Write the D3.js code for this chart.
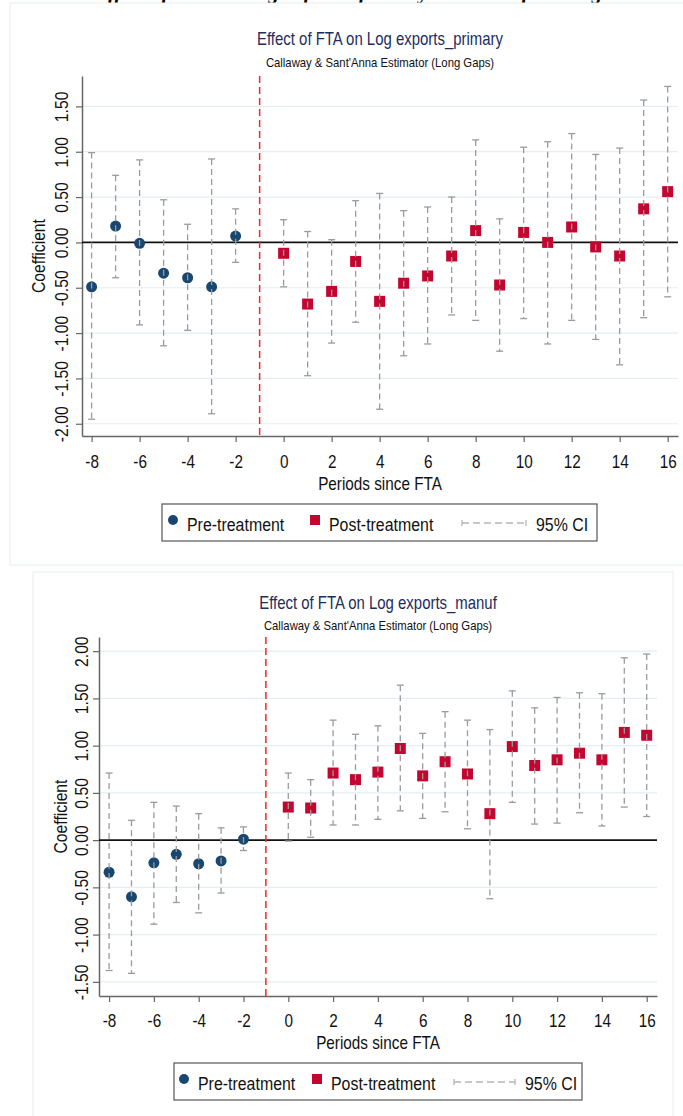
<!DOCTYPE html>
<html>
<head>
<meta charset="utf-8">
<script src="https://cdnjs.cloudflare.com/ajax/libs/d3/7.8.5/d3.min.js"></script>
<style>
  body { margin: 0; background: #fff; }
  svg { display: block; font-family: "Liberation Sans", Arial, sans-serif; }
</style>
</head>
<body>
<svg id="chart" width="683" height="1116"></svg>
<script>
// event time (periods since FTA)
var periods = [-8, -7, -6, -5, -4, -3, -2, 0, 1, 2, 3, 4, 5, 6, 7, 8, 9, 10, 11, 12, 13, 14, 15, 16];
var xTicks = [-8, -6, -4, -2, 0, 2, 4, 6, 8, 10, 12, 14, 16];

// primary exports
var primaryCoef = [-0.49, 0.18, -0.01, -0.34, -0.39, -0.49, 0.07,
  -0.12, -0.68, -0.54, -0.21, -0.65, -0.45, -0.37, -0.15, 0.13, -0.47, 0.11, 0.00, 0.17, -0.05, -0.15, 0.37, 0.56];
var primaryLo = [-1.95, -0.39, -0.91, -1.14, -0.97, -1.89, -0.22,
  -0.49, -1.47, -1.11, -0.88, -1.84, -1.25, -1.12, -0.80, -0.86, -1.20, -0.84, -1.12, -0.86, -1.07, -1.35, -0.83, -0.60];
var primaryHi = [0.99, 0.74, 0.91, 0.47, 0.20, 0.92, 0.37,
  0.25, 0.12, 0.03, 0.46, 0.54, 0.35, 0.39, 0.50, 1.13, 0.26, 1.05, 1.11, 1.20, 0.97, 1.04, 1.57, 1.72];
var yTicksPrimary = [-2, -1.5, -1, -0.5, 0, 0.5, 1, 1.5];

// manufacturing exports
var manufCoef = [-0.34, -0.60, -0.24, -0.15, -0.25, -0.22, 0.01,
  0.35, 0.34, 0.71, 0.64, 0.72, 0.97, 0.68, 0.83, 0.70, 0.28, 0.99, 0.79, 0.85, 0.92, 0.85, 1.14, 1.11];
var manufLo = [-1.38, -1.41, -0.89, -0.66, -0.77, -0.56, -0.11,
  -0.01, 0.03, 0.16, 0.16, 0.22, 0.31, 0.23, 0.30, 0.12, -0.62, 0.40, 0.17, 0.18, 0.29, 0.15, 0.35, 0.25];
var manufHi = [0.71, 0.21, 0.40, 0.36, 0.28, 0.13, 0.14,
  0.71, 0.64, 1.27, 1.12, 1.21, 1.64, 1.13, 1.36, 1.27, 1.17, 1.58, 1.40, 1.51, 1.56, 1.55, 1.93, 1.97];
var yTicksManuf = [-1.5, -1, -0.5, 0, 0.5, 1, 1.5, 2];

var preColor = "#1a476f";
var postColor = "#c2062f";
var ciColor = "#9b9b9b";
var squeeze = 0.85; // the exported graphs look horizontally condensed

var svg = d3.select("#chart");

// text helper: condensed glyphs, positioned by transform
function addText(parent, x, y, str, size, anchor, rot, sx) {
  return parent.append("text")
    .attr("transform", `translate(${x},${y})` + (rot ? ` rotate(${rot})` : "") + ` scale(${sx || squeeze},1)`)
    .attr("text-anchor", anchor || "start")
    .attr("font-size", size)
    .attr("fill", "#111")
    .text(str);
}

// page heading above the first figure, cut by the page edge
svg.append("text")
  .attr("x", 94)
  .attr("y", -1)
  .attr("font-family", "Liberation Serif, serif")
  .attr("font-style", "italic")
  .attr("font-weight", "bold")
  .attr("font-size", 21)
  .attr("fill", "#000")
  .text("Effect of FTA on Log exports: primary and manufacturing");

function drawPanel(cfg) {
  var g = svg.append("g");

  // light frame of the exported graph
  g.append("rect")
    .attr("x", cfg.frame[0]).attr("y", cfg.frame[1])
    .attr("width", cfg.frame[2]).attr("height", cfg.frame[3])
    .attr("fill", "#fff")
    .attr("stroke", "#e6eef0")
    .attr("stroke-width", 1);

  var x = d3.scaleLinear().domain(cfg.xDomain).range([cfg.left, cfg.right]);
  var y = d3.scaleLinear().domain(cfg.yDomain).range([cfg.bottom, cfg.top]);

  // grid
  g.append("g").selectAll("line")
    .data(cfg.yTicks.filter(d => d !== 0))
    .enter().append("line")
    .attr("x1", cfg.left).attr("x2", cfg.right)
    .attr("y1", d => y(d)).attr("y2", d => y(d))
    .attr("stroke", "#e3eff1")
    .attr("stroke-width", 1.2);

  // y axis
  var yAxis = g.append("g")
    .attr("transform", `translate(${cfg.left},0)`)
    .call(d3.axisLeft(y).tickValues(cfg.yTicks).tickSize(6).tickSizeOuter(0).tickFormat(d3.format(".2f")));
  yAxis.select(".domain").attr("stroke", "#666").attr("stroke-width", 1.5);
  yAxis.selectAll(".tick line").attr("stroke", "#666").attr("stroke-width", 1.2);
  yAxis.selectAll(".tick text")
    .attr("x", 0).attr("y", 0).attr("dy", null)
    .attr("transform", `translate(${-cfg.yLabelGap},0) rotate(-90) scale(${squeeze},1)`)
    .attr("text-anchor", "middle")
    .attr("font-size", 18.5)
    .attr("fill", "#111")
    .text(d => d3.format(".2f")(d).replace("−", "-"));

  // x axis
  var xAxis = g.append("g")
    .attr("transform", `translate(0,${cfg.bottom})`)
    .call(d3.axisBottom(x).tickValues(xTicks).tickSize(6).tickSizeOuter(0).tickFormat(d => String(d)));
  xAxis.select(".domain").attr("stroke", "#666").attr("stroke-width", 1.5);
  xAxis.selectAll(".tick line").attr("stroke", "#666").attr("stroke-width", 1.2);
  xAxis.selectAll(".tick text")
    .attr("y", 0).attr("dy", null)
    .attr("transform", `translate(0,${cfg.xLabelY - cfg.bottom}) scale(${squeeze},1)`)
    .attr("font-size", 18)
    .attr("fill", "#111");

  // zero line
  g.append("line")
    .attr("x1", cfg.left).attr("x2", cfg.right)
    .attr("y1", y(0)).attr("y2", y(0))
    .attr("stroke", "#111")
    .attr("stroke-width", 1.6);

  // treatment reference line
  g.append("line")
    .attr("x1", x(-1)).attr("x2", x(-1))
    .attr("y1", cfg.top).attr("y2", cfg.bottom)
    .attr("stroke", "#ee2a2a")
    .attr("stroke-width", 1.5)
    .attr("stroke-dasharray", "7,4");

  var rows = periods.map((p, i) => ({p: p, b: cfg.coef[i], lo: cfg.lo[i], hi: cfg.hi[i]}));

  // markers
  g.append("g").selectAll("circle")
    .data(rows.filter(d => d.p < 0))
    .enter().append("circle")
    .attr("cx", d => x(d.p)).attr("cy", d => y(d.b))
    .attr("r", 5.5)
    .attr("fill", preColor);

  g.append("g").selectAll("rect")
    .data(rows.filter(d => d.p >= 0))
    .enter().append("rect")
    .attr("x", d => x(d.p) - 5.5).attr("y", d => y(d.b) - 5.5)
    .attr("width", 11).attr("height", 11)
    .attr("fill", postColor);

  // confidence intervals (drawn over the markers)
  var ci = g.append("g").selectAll("g")
    .data(rows).enter().append("g")
    .attr("stroke", ciColor)
    .attr("stroke-width", 1.3);
  ci.append("line")
    .attr("x1", d => x(d.p)).attr("x2", d => x(d.p))
    .attr("y1", d => y(d.hi)).attr("y2", d => y(d.lo))
    .attr("stroke-dasharray", "6,4");
  ci.append("line")
    .attr("x1", d => x(d.p) - 3.5).attr("x2", d => x(d.p) + 3.5)
    .attr("y1", d => y(d.hi)).attr("y2", d => y(d.hi));
  ci.append("line")
    .attr("x1", d => x(d.p) - 3.5).attr("x2", d => x(d.p) + 3.5)
    .attr("y1", d => y(d.lo)).attr("y2", d => y(d.lo));

  // titles
  var cx = (cfg.left + cfg.right) / 2;
  addText(g, cx, cfg.titleY, cfg.title, 18, "middle", 0, 0.83).attr("fill", "#1c2d5e");
  addText(g, cx, cfg.titleY + cfg.subGap, "Callaway & Sant'Anna Estimator (Long Gaps)", 13, "middle", 0, 0.87);

  // axis titles
  addText(g, cfg.yTitleX, (cfg.top + cfg.bottom) / 2, "Coefficient", 18.5, "middle", -90);
  addText(g, cx, cfg.xTitleY, "Periods since FTA", 18, "middle");

  // legend
  var L = cfg.legend;
  var lg = g.append("g").attr("transform", `translate(${L.x},${L.y})`);
  lg.append("rect")
    .attr("width", L.w).attr("height", 37)
    .attr("fill", "#fff")
    .attr("stroke", "#555")
    .attr("stroke-width", 1.2);
  lg.append("circle").attr("cx", L.items[0]).attr("cy", 16).attr("r", 5).attr("fill", preColor);
  addText(lg, L.items[0] + 14, 27, "Pre-treatment", 18.5, "start", 0, 0.86);
  lg.append("rect").attr("x", L.items[1] - 5).attr("y", 11).attr("width", 10).attr("height", 10).attr("fill", postColor);
  addText(lg, L.items[1] + 14, 27, "Post-treatment", 18.5, "start", 0, 0.86);
  var c0 = L.items[2], c1 = L.items[2] + L.ciLen;
  var lci = lg.append("g").attr("stroke", "#b5b5b5").attr("stroke-width", 1.3);
  lci.append("line").attr("x1", c0).attr("x2", c1).attr("y1", 19).attr("y2", 19).attr("stroke-dasharray", "7,4");
  lci.append("line").attr("x1", c0).attr("x2", c0).attr("y1", 16).attr("y2", 22);
  lci.append("line").attr("x1", c1).attr("x2", c1).attr("y1", 16).attr("y2", 22);
  addText(lg, c1 + 10, 27, "95% CI", 18.5, "start", 0, 0.86);
}

drawPanel({
  frame: [10, 3, 690, 562],
  left: 82, right: 678, top: 76, bottom: 436,
  xDomain: [-8.4, 16.43],
  yDomain: [-2.135, 1.835],
  yTicks: yTicksPrimary,
  yLabelGap: 14,
  yTitleX: 45,
  xLabelY: 467.5,
  xTitleY: 489.5,
  coef: primaryCoef, lo: primaryLo, hi: primaryHi,
  title: "Effect of FTA on Log exports_primary",
  titleY: 45,
  subGap: 22,
  legend: {x: 162, y: 504, w: 435, items: [11, 153, 300], ciLen: 64}
});

drawPanel({
  frame: [33, 572, 640, 560],
  left: 99, right: 657, top: 637, bottom: 996,
  xDomain: [-8.45, 16.46],
  yDomain: [-1.65, 2.15],
  yTicks: yTicksManuf,
  yLabelGap: 11,
  yTitleX: 67,
  xLabelY: 1026.5,
  xTitleY: 1048.5,
  coef: manufCoef, lo: manufLo, hi: manufHi,
  title: "Effect of FTA on Log exports_manuf",
  titleY: 609,
  subGap: 21,
  legend: {x: 174, y: 1063, w: 408, items: [10, 143, 280], ciLen: 61}
});
</script>
</body>
</html>
